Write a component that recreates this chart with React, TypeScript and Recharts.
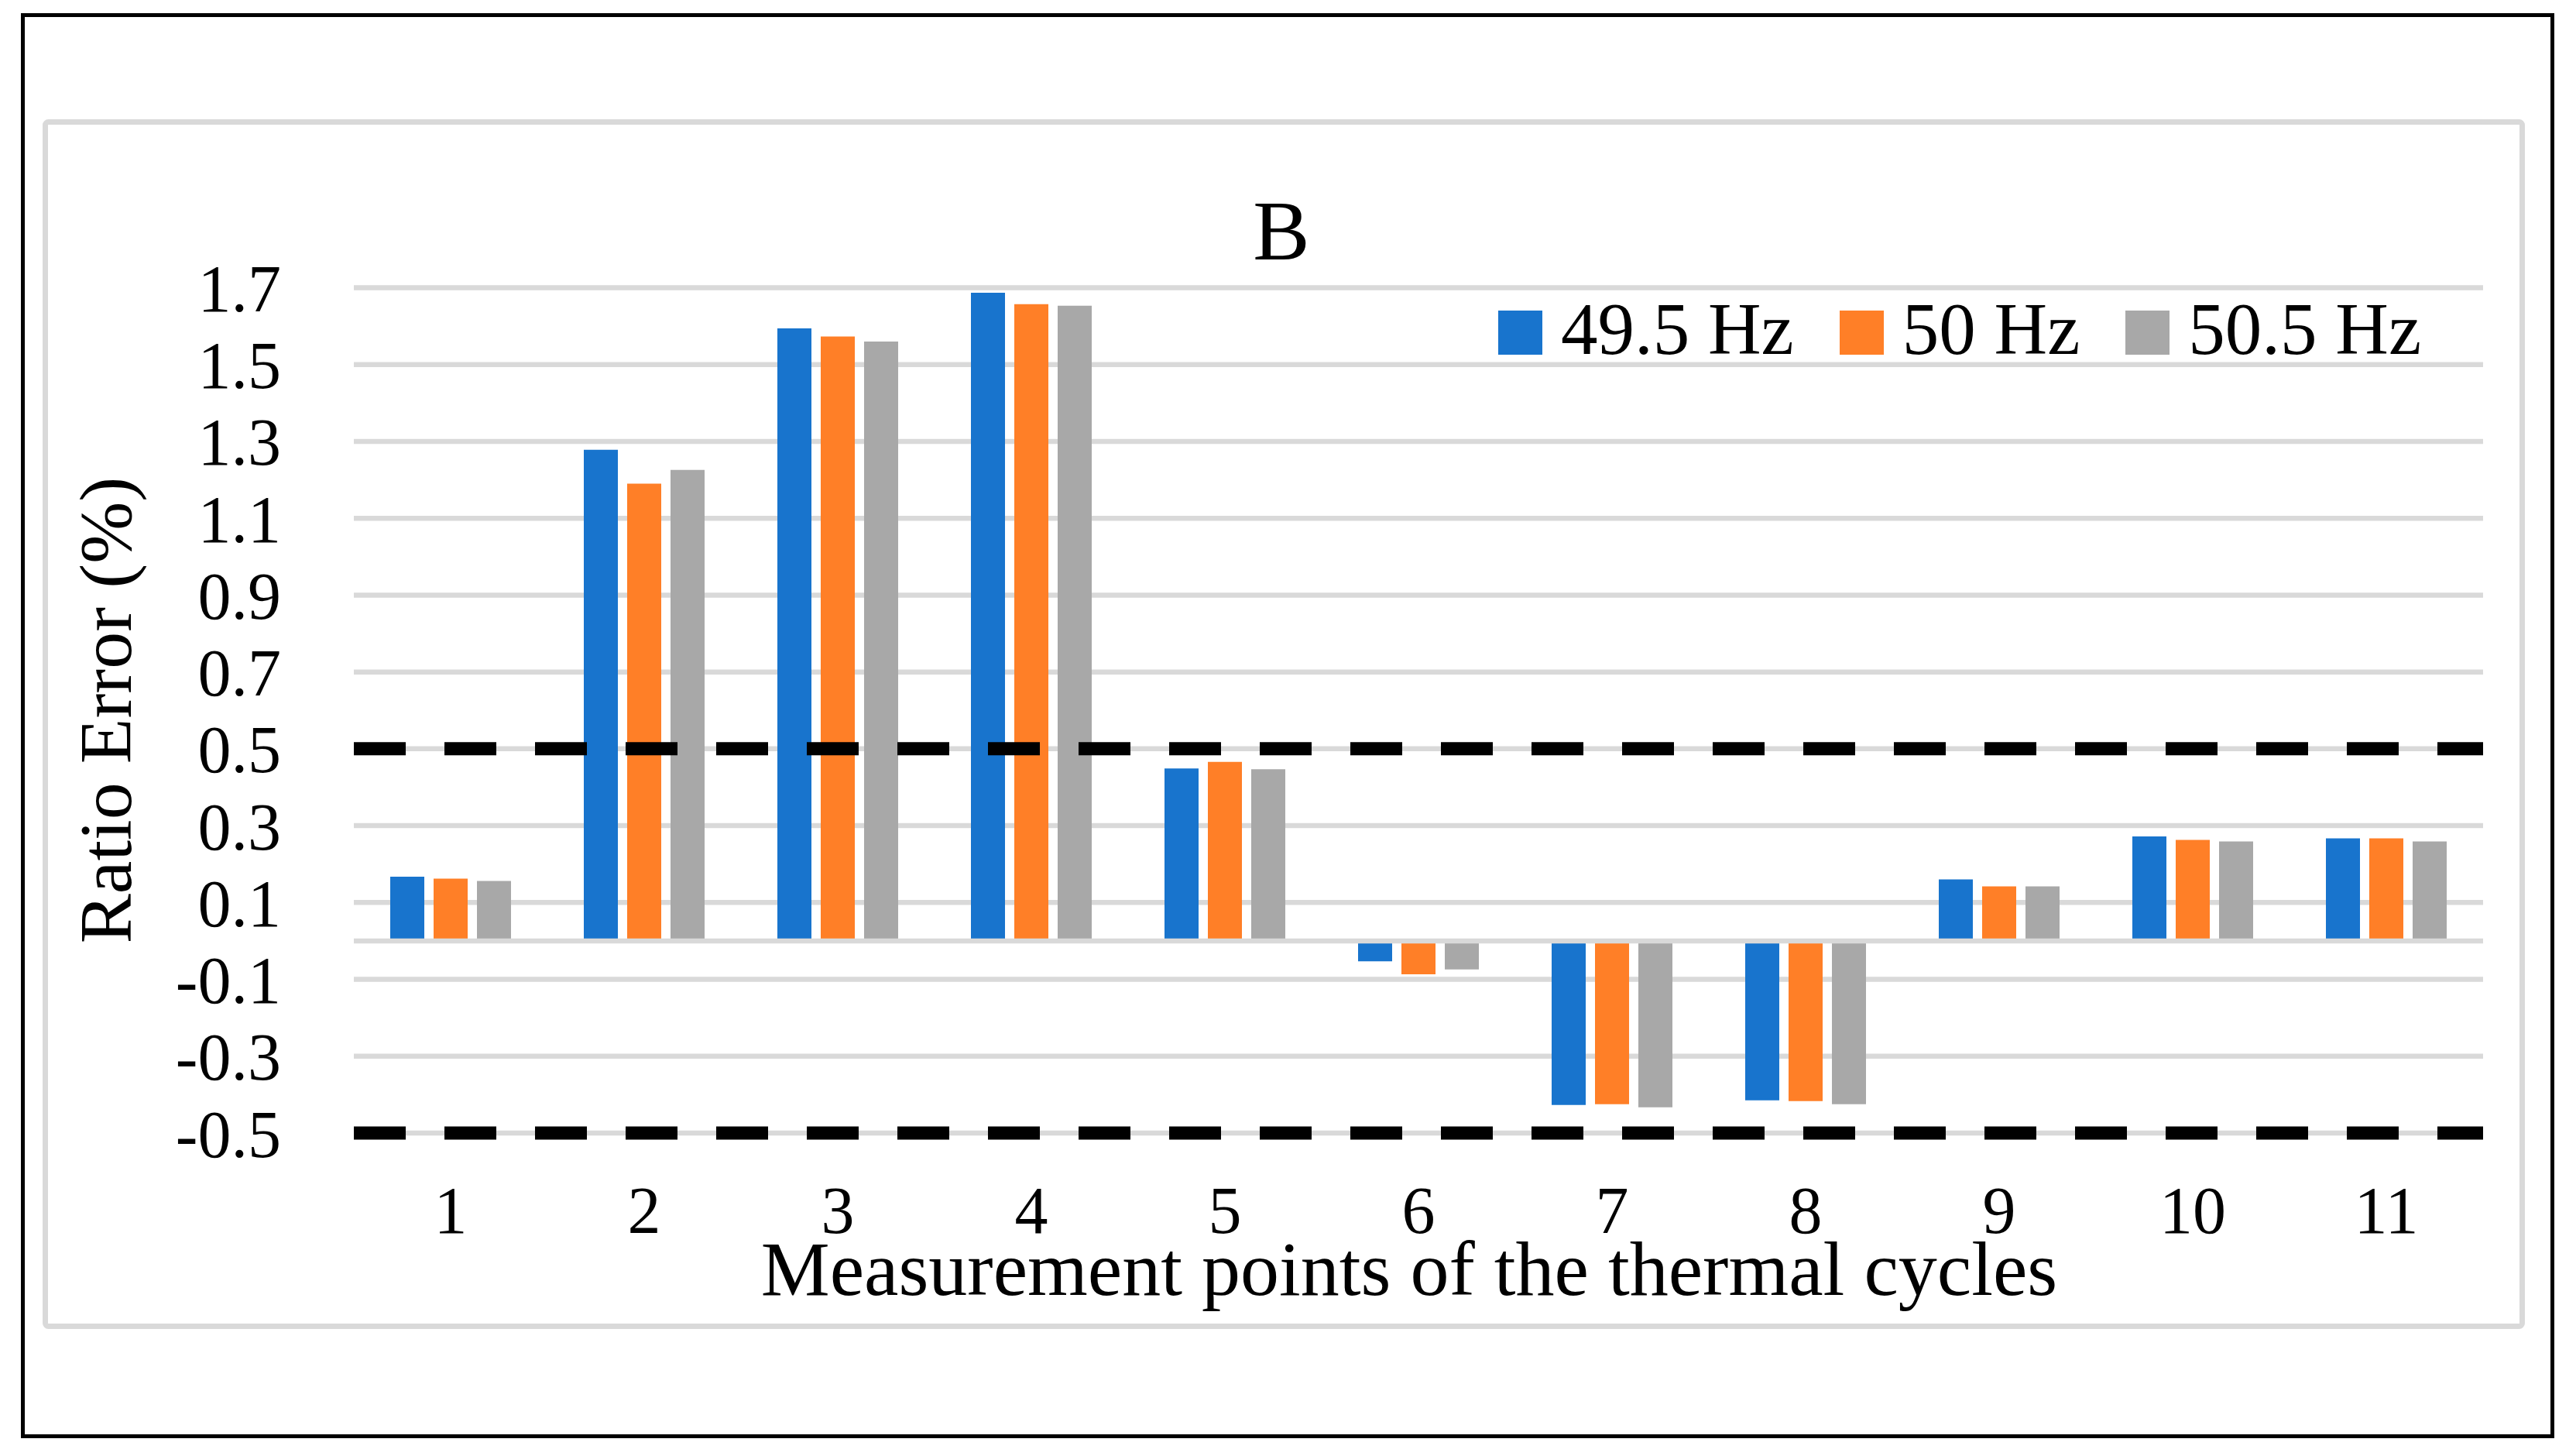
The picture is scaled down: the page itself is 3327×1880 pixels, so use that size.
import React from "react";
import {
  BarChart,
  Bar,
  XAxis,
  YAxis,
  CartesianGrid,
  ReferenceLine,
  Legend,
  Label,
} from "recharts";

// Ratio error per measurement point of the thermal cycles, panel B
const POINTS = ["1", "2", "3", "4", "5", "6", "7", "8", "9", "10", "11"];
const HZ_49_5 = [0.167, 1.278, 1.594, 1.687, 0.449, -0.053, -0.427, -0.415, 0.16, 0.272, 0.267];
const HZ_50 = [0.162, 1.19, 1.573, 1.657, 0.466, -0.087, -0.425, -0.417, 0.142, 0.263, 0.267];
const HZ_50_5 = [0.156, 1.226, 1.56, 1.653, 0.447, -0.074, -0.433, -0.425, 0.142, 0.259, 0.259];

const Y_TICKS = [-0.5, -0.3, -0.1, 0.1, 0.3, 0.5, 0.7, 0.9, 1.1, 1.3, 1.5, 1.7];
const LIMITS = [0.5, -0.5];

const SERIES = [
  { key: "hz495", name: "49.5 Hz", color: "#1874CD" },
  { key: "hz50", name: "50 Hz", color: "#FF7F27" },
  { key: "hz505", name: "50.5 Hz", color: "#A8A8A8" },
];

const data = POINTS.map((point, i) => ({
  point,
  hz495: HZ_49_5[i],
  hz50: HZ_50[i],
  hz505: HZ_50_5[i],
}));

const W = 3327;
const H = 1880;
const FONT = '"Liberation Serif", "Times New Roman", serif';
const GRID = "#D9D9D9";

function FreqLegend(props: any) {
  const items = props.payload || [];
  return (
    <div
      style={{
        display: "flex",
        alignItems: "center",
        height: 95,
        fontFamily: FONT,
        fontSize: 95,
        lineHeight: "95px",
        color: "#000",
      }}
    >
      {items.map((it: any, i: number) => (
        <div
          key={it.value}
          style={{ display: "flex", alignItems: "center", marginLeft: i === 0 ? 0 : 59 }}
        >
          <span
            style={{
              display: "inline-block",
              width: 57,
              height: 57,
              background: it.color,
              marginRight: 24,
            }}
          />
          <span style={{ position: "relative", top: -4, whiteSpace: "nowrap" }}>
            {it.value}
          </span>
        </div>
      ))}
    </div>
  );
}

export default function App() {
  return (
    <div style={{ position: "absolute", left: 0, top: 0, width: W, height: H, background: "#fff" }}>
      <svg width={W} height={H} style={{ position: "absolute", left: 0, top: 0 }}>
        <rect x={29.5} y={19.5} width={3267} height={1835} fill="none" stroke="#000" strokeWidth={5} />
        <rect
          x={58.5}
          y={157.5}
          width={3199}
          height={1555}
          rx={4}
          fill="none"
          stroke={GRID}
          strokeWidth={7}
        />
        <text x={1655} y={335} textAnchor="middle" fontFamily={FONT} fontSize={110} fill="#000">
          B
        </text>
      </svg>
      <div style={{ position: "absolute", left: 0, top: 0 }}>
        <BarChart
          width={W}
          height={H}
          data={data}
          margin={{ top: 371.5, right: 120, bottom: 317, left: 0 }}
          barSize={44}
          barGap={12}
        >
          <CartesianGrid vertical={false} stroke={GRID} strokeWidth={6.5} />
          <XAxis
            dataKey="point"
            type="category"
            height={100}
            axisLine={false}
            tickLine={false}
            tickSize={0}
            tickMargin={68}
            interval={0}
            tick={{ fontFamily: FONT, fontSize: 86, fill: "#000" }}
          >
            <Label
              content={() => (
                <text
                  x={1820}
                  y={1672}
                  textAnchor="middle"
                  fontFamily={FONT}
                  fontSize={100}
                  fill="#000"
                >
                  Measurement points of the thermal cycles
                </text>
              )}
            />
          </XAxis>
          <YAxis
            type="number"
            width={457}
            domain={[-0.5, 1.7]}
            ticks={Y_TICKS}
            interval={0}
            axisLine={false}
            tickLine={false}
            tickSize={0}
            tickMargin={94}
            tickFormatter={(v: number) => v.toFixed(1)}
            tick={{ fontFamily: FONT, fontSize: 86, fill: "#000" }}
          >
            <Label
              content={() => (
                <text
                  x={169}
                  y={917}
                  transform="rotate(-90 169 917)"
                  textAnchor="middle"
                  fontFamily={FONT}
                  fontSize={96}
                  fill="#000"
                >
                  Ratio Error (%)
                </text>
              )}
            />
          </YAxis>
          <ReferenceLine y={0} stroke={GRID} strokeWidth={6.5} />
          <Legend
            layout="horizontal"
            verticalAlign="middle"
            align="center"
            content={<FreqLegend />}
            wrapperStyle={{ left: 1935, top: 382, width: 1350, height: 95 }}
          />
          {SERIES.map((s) => (
            <Bar
              key={s.key}
              dataKey={s.key}
              name={s.name}
              fill={s.color}
              isAnimationActive={false}
            />
          ))}
          {LIMITS.map((v) => (
            <ReferenceLine
              key={v}
              y={v}
              stroke="#000"
              strokeWidth={17}
              strokeDasharray="67 50"
            />
          ))}
        </BarChart>
      </div>
    </div>
  );
}
